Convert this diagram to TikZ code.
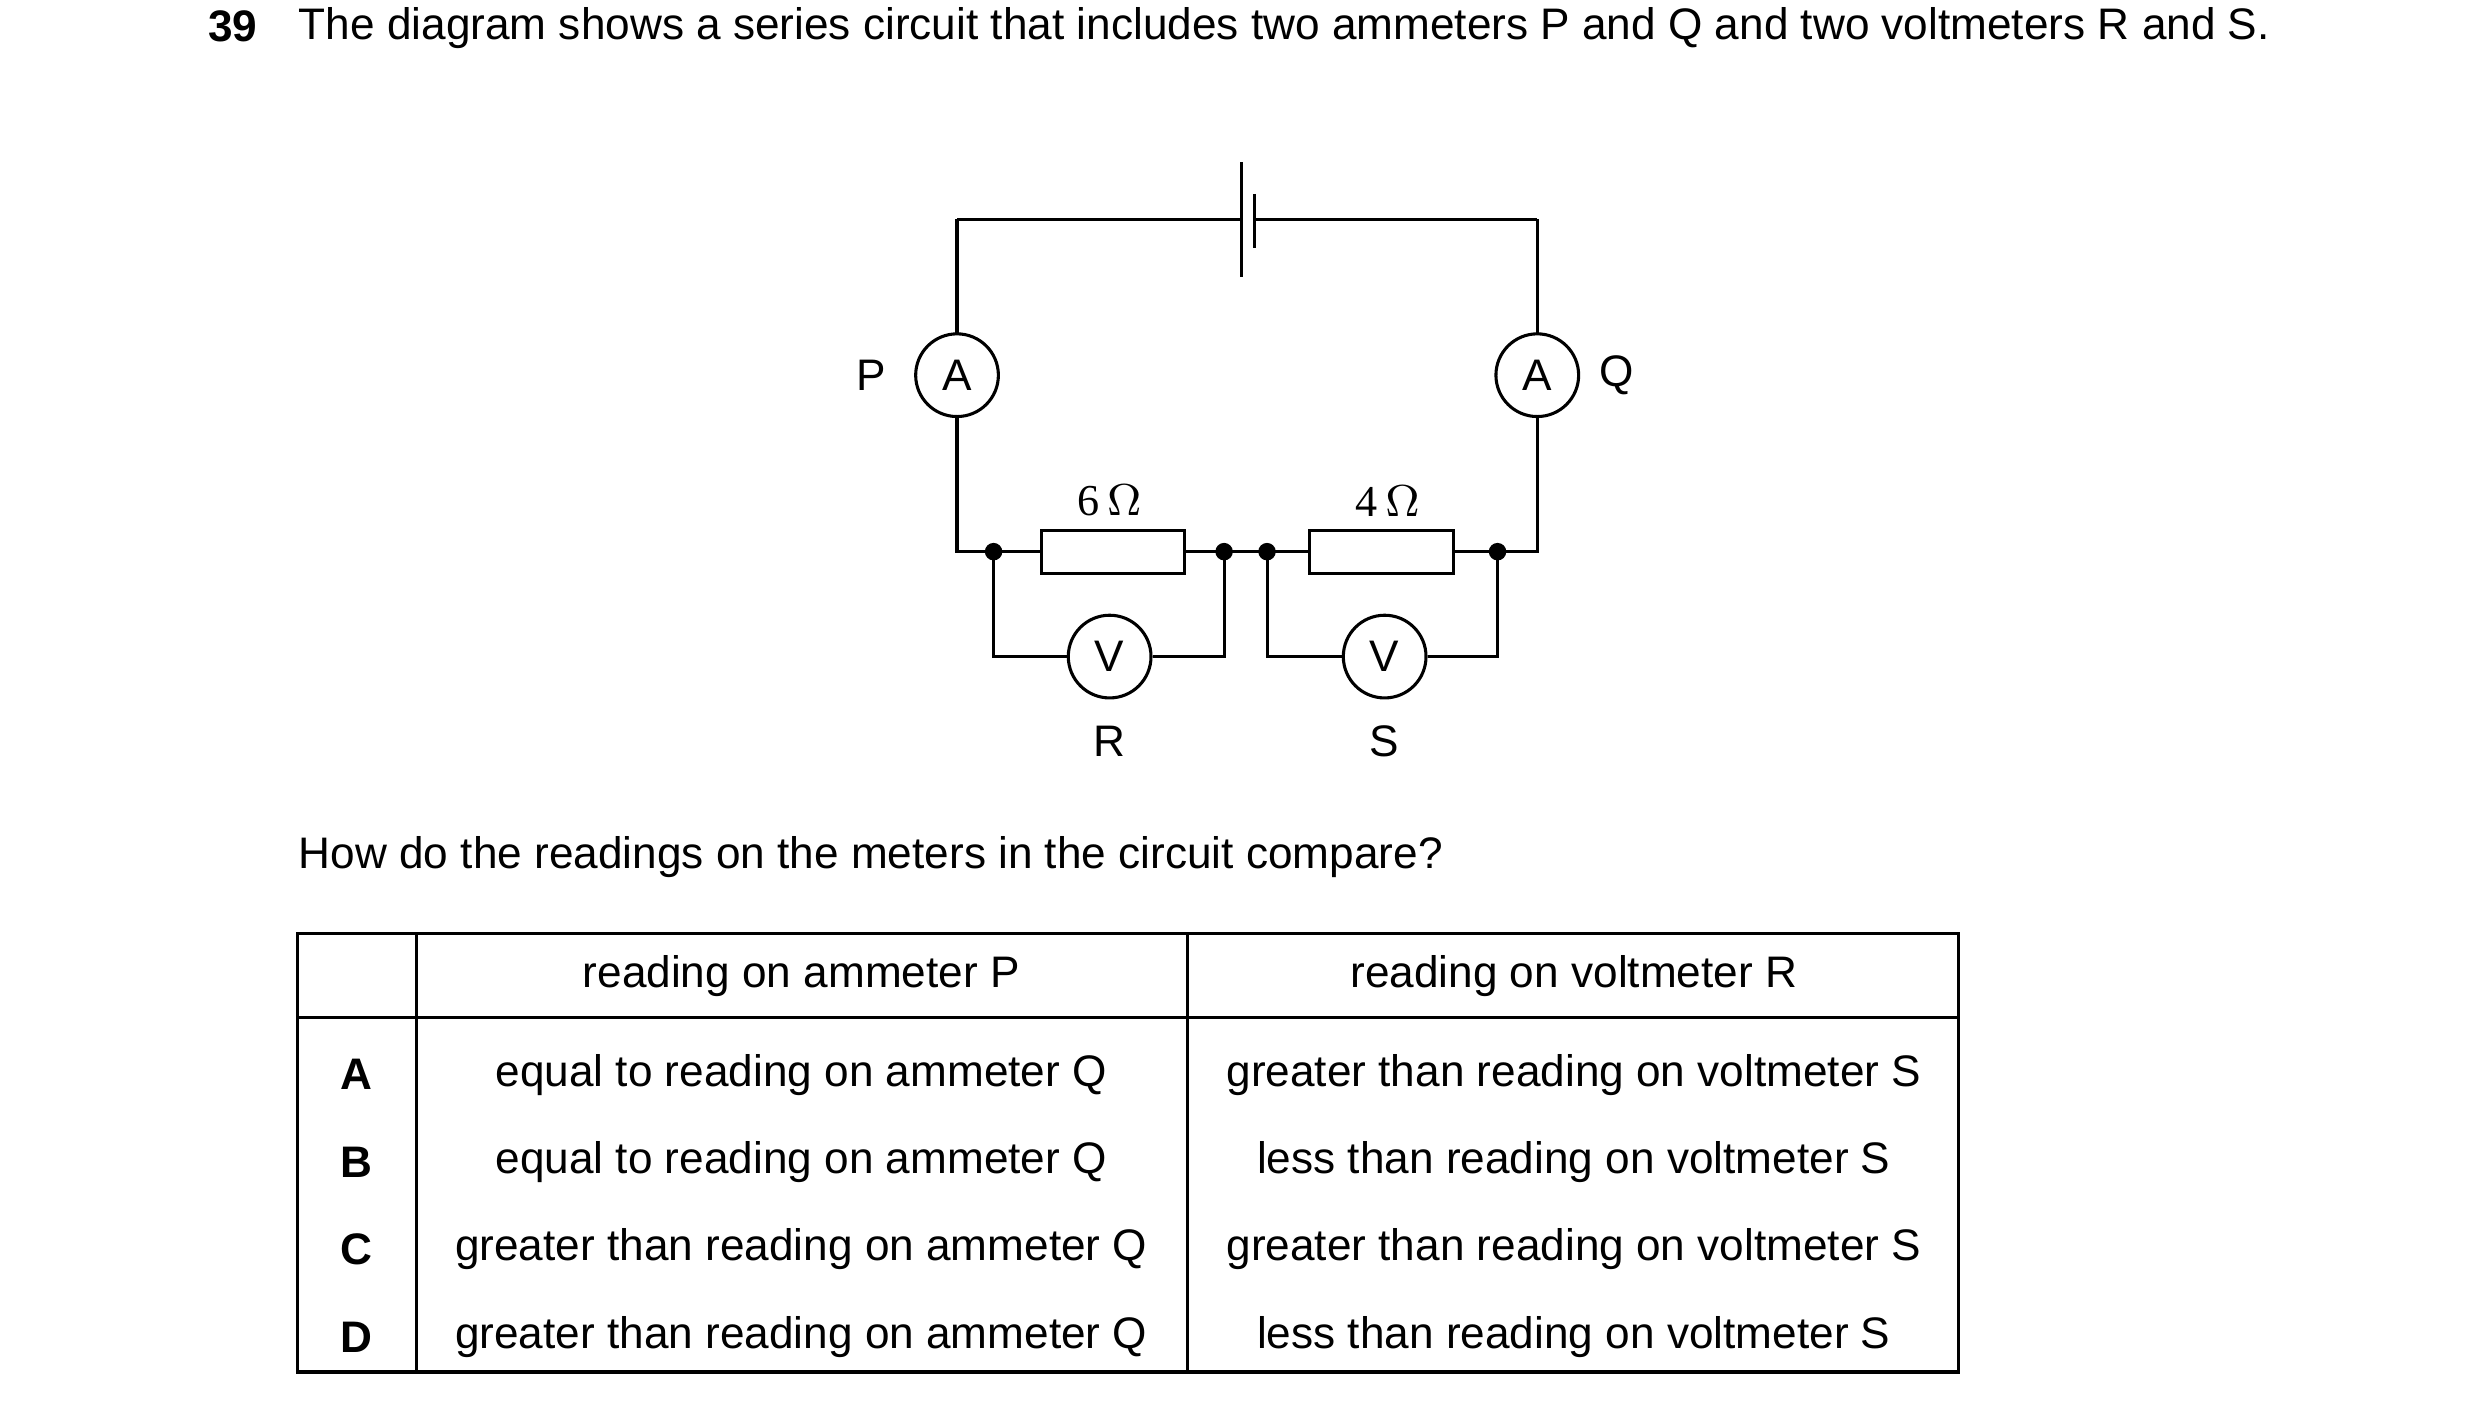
\documentclass[tikz,border=0pt]{standalone}
\usepackage{fontspec}
\setmainfont{Liberation Sans}
\newfontfamily\serifm{Liberation Serif}
\begin{document}
\fontsize{7.9pt}{9.4pt}\selectfont
\begin{tikzpicture}[x=0.01cm,y=-0.01cm,line width=0.55pt,
  meter/.style={circle,draw,minimum size=0.52cm,inner sep=0pt,fill=white},
  res/.style={draw,minimum width=0.9cm,minimum height=0.27cm,inner sep=0pt,fill=white},
  dot/.style={circle,fill,inner sep=0pt,minimum size=0.11cm},
  lbl/.style={inner sep=0pt}]
\useasboundingbox (0,0) rectangle (1560,884);
\node[lbl,anchor=base west,font=\bfseries] (num) at (130,26) {39};
\node[lbl,anchor=north west,text width=12.5cm,align=justify] (title) at (187,4)
 {The diagram shows a series circuit that includes two ammeters P and Q and two voltmeters R and S.};
% circuit
\coordinate (tl) at (602,138); \coordinate (tr) at (967,138);
\coordinate (bl) at (602,347); \coordinate (br) at (967,347);
\coordinate (b1) at (781,102); \coordinate (b2) at (781,174);
\coordinate (b3) at (789,122); \coordinate (b4) at (789,156);
\coordinate (bm1) at (781,138); \coordinate (bm2) at (789,138);
\draw (tl) -- (bm1); \draw (bm2) -- (tr);
\draw (b1) -- (b2); \draw (b3) -- (b4);
\draw (tl) -- (bl) -- (br) -- (tr);
\node[meter] (P) at (602,236) {A};
\node[meter] (Q) at (967,236) {A};
\node[lbl] (Pl) at (548,236) {P};
\node[lbl] (Ql) at (1017,236) {Q};
\node[res] (R1) at (700,347) {};
\node[res] (R2) at (869,347) {};
\node[lbl,font=\serifm] (R1l) at (698,315) {6\,$\Omega$};
\node[lbl,font=\serifm] (R2l) at (873,315) {4\,$\Omega$};
\node[dot] (d1) at (625,347) {};
\node[dot] (d2) at (770,347) {};
\node[dot] (d3) at (797,347) {};
\node[dot] (d4) at (942,347) {};
\node[meter] (V1) at (698,413) {V};
\node[meter] (V2) at (871,413) {V};
\draw (d1.center) |- (V1.west); \draw (V1.east) -| (d2.center);
\draw (d3.center) |- (V2.west); \draw (V2.east) -| (d4.center);
\node[lbl] (Rl) at (698,466) {R};
\node[lbl] (Sl) at (871,466) {S};
\node[lbl,anchor=base west] (qq) at (187,546) {How do the readings on the meters in the circuit compare?};
% table
\draw (187,587) rectangle (1232,863);
\draw (187,640) -- (1232,640);
\draw (262,587) -- (262,863);
\draw (747,587) -- (747,863);
\node[lbl] (h1) at (504,614) {reading on ammeter P};
\node[lbl] (h2) at (990,614) {reading on voltmeter R};
\foreach \L/\y/\a/\b in {A/676/equal to reading on ammeter Q/greater than reading on voltmeter S,
 B/731/equal to reading on ammeter Q/less than reading on voltmeter S,
 C/786/greater than reading on ammeter Q/greater than reading on voltmeter S,
 D/841/greater than reading on ammeter Q/less than reading on voltmeter S}{
 \node[lbl,font=\bfseries] (L\L) at (224,\y) {\L};
 \node[lbl] (a\L) at (504,\y) {\a};
 \node[lbl] (b\L) at (990,\y) {\b};
}
\end{tikzpicture}
\end{document}
